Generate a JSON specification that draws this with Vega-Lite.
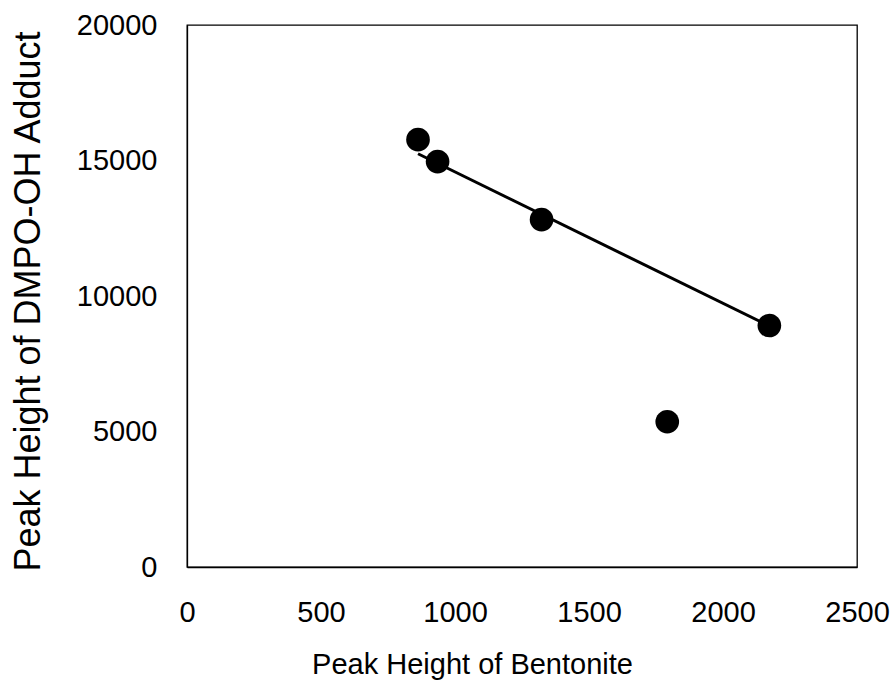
{
  "$schema": "https://vega.github.io/schema/vega-lite/v6.json",
  "width": 670,
  "height": 542,
  "autosize": {"type": "none"},
  "padding": {"left": 187, "top": 25, "right": 37, "bottom": 119},
  "background": "white",
  "config": {
    "view": {"stroke": "black", "strokeWidth": 1.3},
    "font": "Liberation Sans"
  },
  "datasets": {
    "points": [
      {"x": 862, "y": 15770},
      {"x": 935, "y": 14960},
      {"x": 1323, "y": 12820},
      {"x": 2173, "y": 8910},
      {"x": 1792, "y": 5360}
    ],
    "fit": [
      {"x": 862, "y": 15250},
      {"x": 2173, "y": 8890}
    ],
    "xticks": [{"x": 500}, {"x": 1000}, {"x": 1500}, {"x": 2000}],
    "yticks": [{"y": 5000}, {"y": 10000}, {"y": 15000}]
  },
  "encoding": {
    "x": {
      "field": "x",
      "type": "quantitative",
      "scale": {"domain": [0, 2500], "nice": false, "zero": false},
      "axis": {
        "values": [0, 500, 1000, 1500, 2000, 2500],
        "format": "d",
        "grid": false,
        "ticks": false,
        "domainColor": "black",
        "domainWidth": 1.3,
        "labelFontSize": 29,
        "labelColor": "black",
        "labelBaseline": "alphabetic",
        "labelPadding": 54,
        "labelFlush": false,
        "labelOverlap": false,
        "title": "Peak Height of Bentonite",
        "titleFontSize": 29,
        "titleFontWeight": "normal",
        "titleColor": "black",
        "titleX": 285,
        "titleY": 106,
        "titleAlign": "center",
        "titleBaseline": "alphabetic"
      }
    },
    "y": {
      "field": "y",
      "type": "quantitative",
      "scale": {"domain": [0, 20000], "nice": false, "zero": false},
      "axis": {
        "values": [0, 5000, 10000, 15000, 20000],
        "format": "d",
        "grid": false,
        "ticks": false,
        "domainColor": "black",
        "domainWidth": 1.3,
        "labelFontSize": 29,
        "labelColor": "black",
        "labelBaseline": "middle",
        "labelPadding": 30,
        "labelFlush": false,
        "labelOverlap": false,
        "title": "Peak Height of DMPO-OH Adduct",
        "titleFontSize": 36,
        "titleFontWeight": "normal",
        "titleColor": "black",
        "titleX": -148,
        "titleY": 276,
        "titleAngle": -90,
        "titleAlign": "center",
        "titleBaseline": "alphabetic"
      }
    }
  },
  "layer": [
    {
      "data": {"name": "xticks"},
      "mark": {"type": "tick", "orient": "vertical", "size": 10, "thickness": 1.3, "color": "black", "opacity": 1, "yOffset": -5},
      "encoding": {
        "y": {"datum": 0, "type": "quantitative"}
      }
    },
    {
      "data": {"name": "yticks"},
      "mark": {"type": "tick", "orient": "horizontal", "size": 10, "thickness": 1.3, "color": "black", "opacity": 1, "xOffset": 5},
      "encoding": {
        "x": {"datum": 0, "type": "quantitative"}
      }
    },
    {
      "data": {"name": "fit"},
      "mark": {"type": "line", "color": "black", "strokeWidth": 3}
    },
    {
      "data": {"name": "points"},
      "mark": {"type": "circle", "size": 560, "color": "black", "opacity": 1}
    }
  ]
}
